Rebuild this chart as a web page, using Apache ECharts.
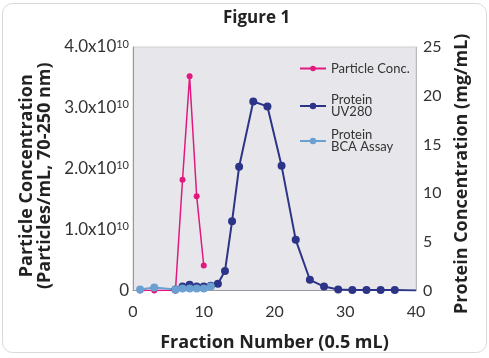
<!DOCTYPE html>
<html>
<head>
<meta charset="utf-8">
<script src="https://cdn.jsdelivr.net/npm/echarts@6/dist/echarts.min.js"></script>
<style>html,body{margin:0;padding:0;background:#fff;}#c{width:489px;height:358px;}</style>
</head>
<body>
<div id="c"></div>
<script>
// Fraction numbers and values
const particleFractions = [1, 3, 6, 7, 8, 9, 10];
const particleValues = [0, 0, 0, 1.82e10, 3.52e10, 1.55e10, 0.41e10];

const uvFractions = [6, 7, 8, 9, 10, 11, 12, 13, 14, 15, 17, 19, 21, 23, 25, 27, 29, 31, 33, 35, 37, 40];
const uvValues = [0.1, 0.4, 0.6, 0.4, 0.4, 0.5, 0.7, 2.0, 7.1, 12.7, 19.4, 18.9, 12.8, 5.2, 1.1, 0.4, 0.1, 0.05, 0.05, 0.05, 0.05, 0];

const bcaFractions = [1, 3, 6, 7, 8, 9, 10, 11];
const bcaValues = [0.1, 0.3, 0.1, 0.2, 0.2, 0.2, 0.2, 0.4];

const xTicks = [0, 10, 20, 30, 40];
const leftTicks = [0, 1e10, 2e10, 3e10, 4e10];
const rightTicks = [0, 5, 10, 15, 20, 25];

const FONT = 'Lato';
const BOLD = 'Open Sans';
const PINK = '#e0187f';
const NAVY = '#2c3488';
const LIGHT = '#6a9fd2';

function pairs(xs, ys) { return xs.map((x, i) => [x, ys[i]]); }
const uvData = pairs(uvFractions, uvValues).map((p, i) =>
  i === uvFractions.length - 1 ? { value: p, symbol: 'none' } : p);

const chart = echarts.init(document.getElementById('c'), null, { renderer: 'canvas' });
chart.setOption({
  backgroundColor: '#fff',
  animation: false,
  graphic: [{
    type: 'rect', shape: { x: 2.5, y: 3.5, width: 484, height: 349, r: 10 },
    style: { fill: 'none', stroke: '#d9d9d9', lineWidth: 1 }, z: -1
  }],
  title: {
    text: 'Figure 1', left: 218, top: 5,
    textStyle: { fontFamily: BOLD, fontWeight: 'bold', fontSize: 17, color: '#222' }
  },
  grid: {
    left: 133, right: 73, top: 47, bottom: 67.5,
    show: true, backgroundColor: '#e7e7eb', borderColor: '#cfcfd4', borderWidth: 1
  },
  legend: [
    { data: ['Particle Conc.'], orient: 'vertical', left: 299, top: 62, padding: 0,
      itemWidth: 26, itemHeight: 7, itemGap: 0,
      textStyle: { fontFamily: FONT, fontSize: 13, color: '#333', lineHeight: 13 } },
    { data: ['Protein\nUV280'], orient: 'vertical', left: 299, top: 88, padding: 0,
      itemWidth: 26, itemHeight: 8,
      textStyle: { fontFamily: FONT, fontSize: 13, color: '#333', lineHeight: 12, padding: [12, 0, 0, 0] } },
    { data: ['Protein\nBCA Assay'], orient: 'vertical', left: 299, top: 126, padding: 0,
      itemWidth: 26, itemHeight: 8,
      textStyle: { fontFamily: FONT, fontSize: 13, color: '#333', lineHeight: 12, padding: [0, 0, 6, 0] } }
  ],
  xAxis: {
    type: 'value', min: xTicks[0], max: xTicks[xTicks.length - 1], interval: 10,
    name: 'Fraction Number (0.5 mL)', nameLocation: 'middle', nameGap: 43,
    nameTextStyle: { fontFamily: BOLD, fontWeight: 'bold', fontSize: 18, color: '#222' },
    axisLine: { show: true, lineStyle: { color: '#999', width: 1 } },
    axisTick: { show: false }, splitLine: { show: false },
    axisLabel: { fontFamily: FONT, fontSize: 16, color: '#333', margin: 13 }
  },
  yAxis: [{
    type: 'value', position: 'left', min: leftTicks[0], max: leftTicks[leftTicks.length - 1], interval: 1e10,
    name: 'Particle Concentration\n(Particles/mL, 70-250 nm)', nameLocation: 'middle', nameRotate: 90, nameGap: 73,
    nameTextStyle: { fontFamily: BOLD, fontWeight: 'bold', fontSize: 18, lineHeight: 18, color: '#222', padding: [0, 14, 0, 0] },
    axisLine: { show: true, lineStyle: { color: '#999', width: 1 } },
    axisTick: { show: false }, splitLine: { show: false },
    axisLabel: {
      margin: 4,
      formatter: v => v === 0 ? '{n|0}' : '{n|' + (v / 1e10).toFixed(1) + 'x10}{s|10}',
      rich: {
        n: { fontFamily: FONT, fontSize: 17, color: '#333' },
        s: { fontFamily: FONT, fontSize: 11, color: '#333', verticalAlign: 'top', lineHeight: 11 }
      }
    }
  }, {
    type: 'value', position: 'right', min: rightTicks[0], max: rightTicks[rightTicks.length - 1], interval: 5,
    name: 'Protein Concentration (mg/mL)', nameLocation: 'middle', nameRotate: 90, nameGap: 34,
    nameTextStyle: { fontFamily: BOLD, fontWeight: 'bold', fontSize: 18, color: '#222', padding: [0, 10, 0, 0] },
    axisLine: { show: true, lineStyle: { color: '#bbb', width: 1 } },
    axisTick: { show: false }, splitLine: { show: false },
    axisLabel: { fontFamily: FONT, fontSize: 16, color: '#333', margin: 7 }
  }],
  series: [{
    name: 'Particle Conc.', type: 'line', yAxisIndex: 0,
    data: pairs(particleFractions, particleValues),
    symbol: 'circle', symbolSize: 6, color: PINK,
    lineStyle: { width: 1.5, color: PINK }, itemStyle: { color: PINK }
  }, {
    name: 'Protein\nUV280', type: 'line', yAxisIndex: 1,
    data: uvData,
    symbol: 'circle', symbolSize: 8, color: NAVY,
    lineStyle: { width: 2, color: NAVY }, itemStyle: { color: NAVY }
  }, {
    name: 'Protein\nBCA Assay', type: 'line', yAxisIndex: 1,
    data: pairs(bcaFractions, bcaValues),
    symbol: 'circle', symbolSize: 8, color: LIGHT,
    lineStyle: { width: 2, color: LIGHT }, itemStyle: { color: LIGHT }
  }]
});
</script>
</body>
</html>
